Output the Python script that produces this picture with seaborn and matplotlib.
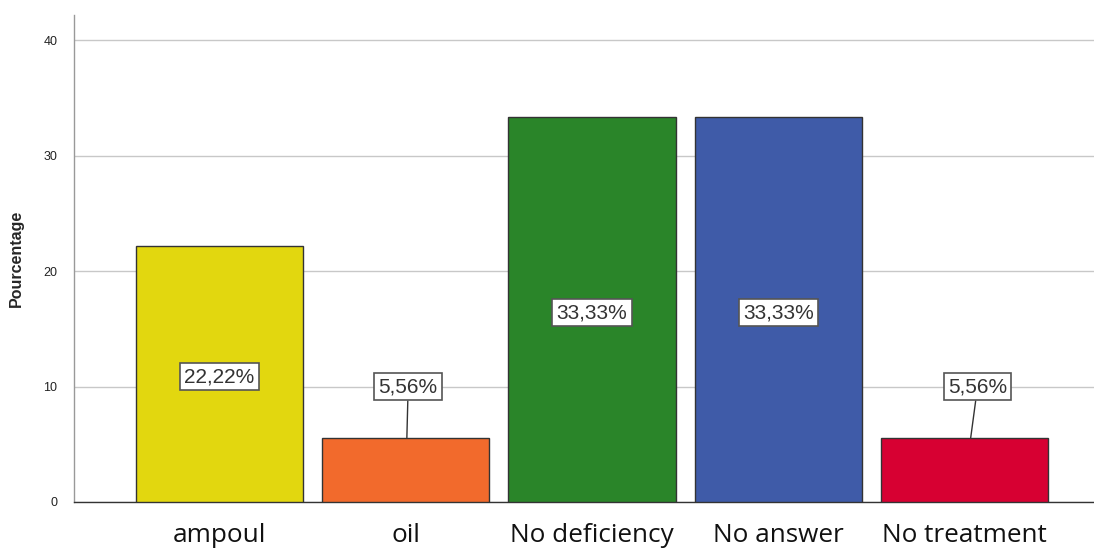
import matplotlib
matplotlib.use("Agg")
import matplotlib.pyplot as plt
import seaborn as sns
import pandas as pd

categories = ["ampoul", "oil", "No deficiency", "No answer", "No treatment"]
percentages = [22.22, 5.56, 33.33, 33.33, 5.56]
bar_colors = ["#E2D70F", "#F26A2C", "#2A8529", "#3F5BA8", "#D70032"]
y_ticks = [0, 10, 20, 30, 40]

df = pd.DataFrame({"category": categories, "pct": percentages})

sns.set_theme(style="white")
plt.rcParams["font.family"] = ["Liberation Sans", "DejaVu Sans"]

fig = plt.figure(figsize=(10.94, 5.48), dpi=100)
ax = fig.add_axes([74 / 1094, 46 / 548, 1020 / 1094, 487 / 548])

sns.barplot(data=df, x="category", y="pct", hue="category", palette=bar_colors,
            legend=False, width=0.897, edgecolor="#333333", linewidth=1.0,
            saturation=1.0, ax=ax, zorder=3)

ax.set_xlim(-0.781, 4.695)
ax.set_ylim(0, 42.2)
ax.set_yticks(y_ticks)
ax.yaxis.grid(True, color="#c8c8c8", linewidth=1.0, zorder=0)
ax.set_axisbelow(True)
for s in ["top", "right"]:
    ax.spines[s].set_visible(False)
ax.spines["left"].set_color("#999999")
ax.spines["bottom"].set_color("#333333")
ax.spines["left"].set_linewidth(1.0)
ax.spines["bottom"].set_linewidth(1.0)

ax.tick_params(axis="y", length=4, color="#999999", labelsize=9, labelcolor="#222222", pad=8)
ax.tick_params(axis="x", length=0, labelsize=18.8, pad=15, labelcolor="#111111")
for lbl in ax.get_xticklabels():
    lbl.set_fontfamily(["Open Sans", "DejaVu Sans"])
ax.set_xlabel("")
ax.set_ylabel("Pourcentage", fontsize=11.5, fontweight="bold", labelpad=14)

box = dict(boxstyle="square,pad=0.2", facecolor="white", edgecolor="#555555", linewidth=1.2)
# small bars get a callout above them, slightly shifted to the right
callout_shift = {1: (0.013, 0.006), 4: (0.07, 0.033)}
for i, v in enumerate(percentages):
    txt = f"{v:.2f}".replace(".", ",") + "%"
    if v > 15:
        ax.text(i, v / 2 - 0.25, txt, ha="center", va="center", fontsize=15,
                color="#333333", bbox=box, zorder=5)
    else:
        dx_box, dx_tip = callout_shift.get(i, (0.0, 0.0))
        ax.annotate(txt, xy=(i + dx_tip, v), xytext=(i + dx_box, 10.0),
                    ha="center", va="center", fontsize=15, color="#333333",
                    bbox=box, zorder=5,
                    arrowprops=dict(arrowstyle="-", color="#333333", linewidth=1.0,
                                    shrinkA=0, shrinkB=0))

fig.savefig("out.png", dpi=100)
